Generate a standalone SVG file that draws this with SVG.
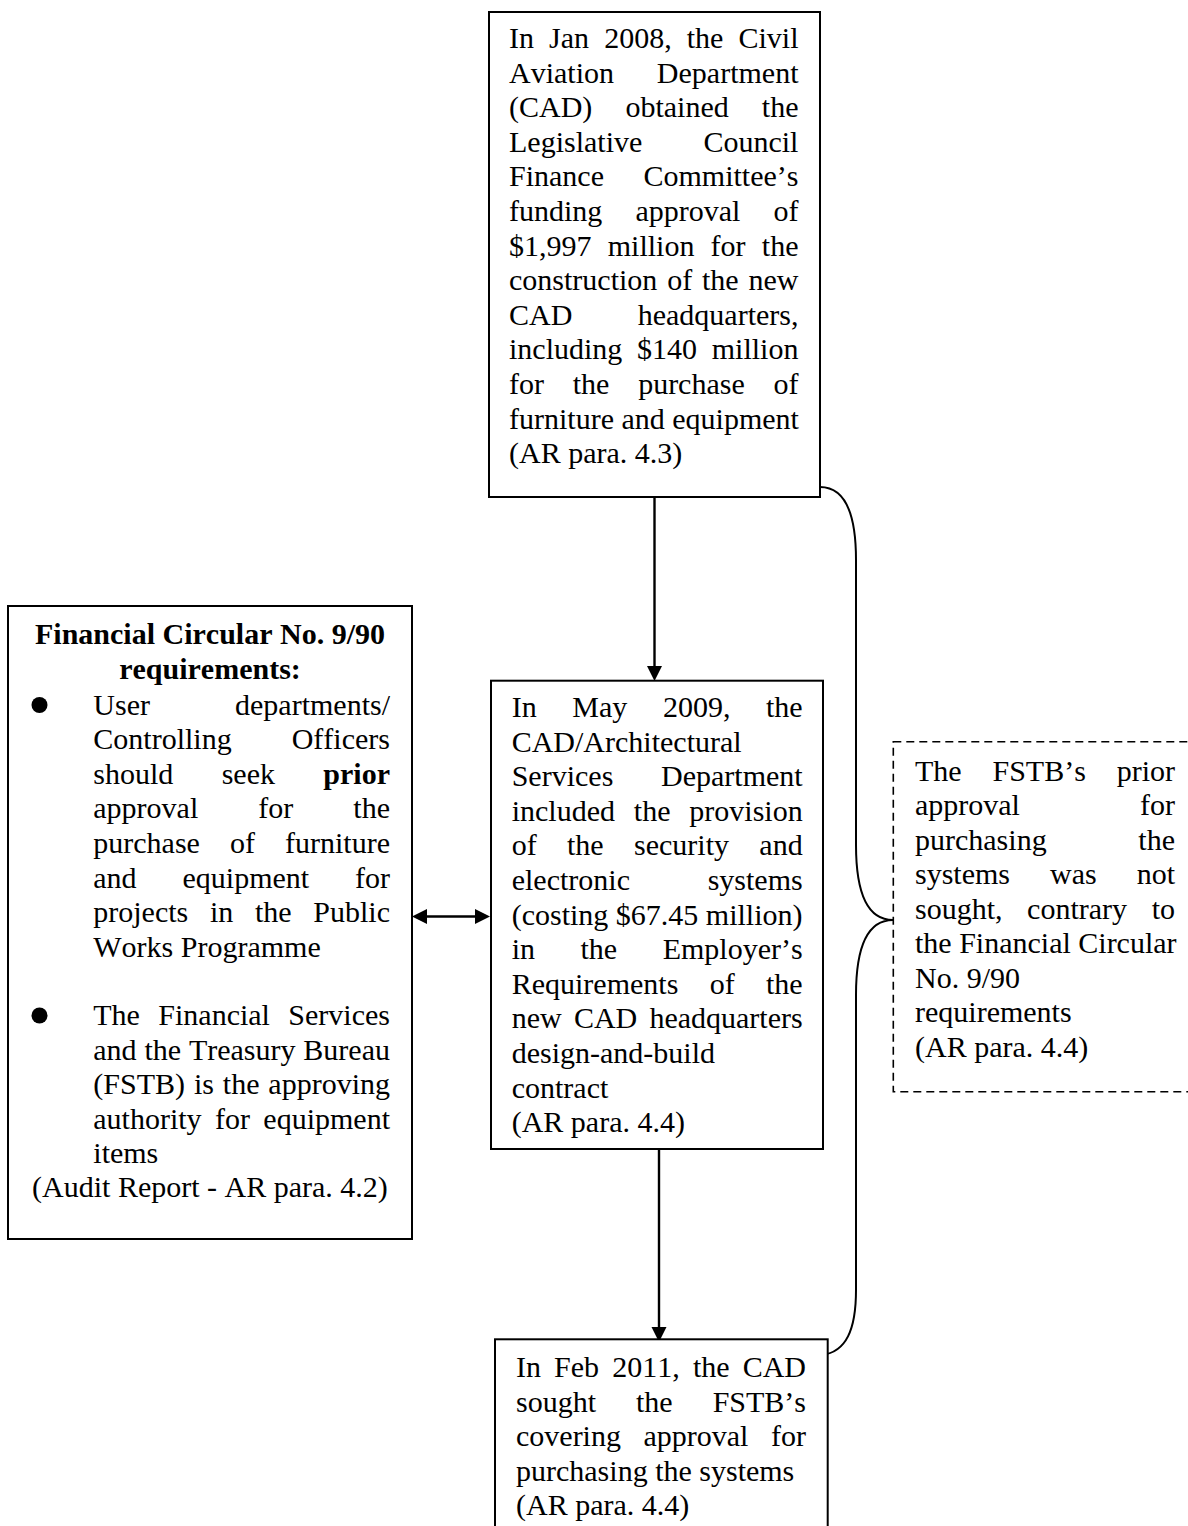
<svg xmlns="http://www.w3.org/2000/svg" width="1188" height="1526" viewBox="0 0 1188 1526">
<style>
.box{fill:#fff;stroke:#000;stroke-width:2}
.dash{fill:#fff;stroke:#000;stroke-width:1.6;stroke-dasharray:8 5}
.t{font-family:"Liberation Serif","Times New Roman",serif;font-size:30px;fill:#000;font-kerning:none}
.b{font-weight:bold}
.c{text-anchor:middle}
.ln{stroke:#000;stroke-width:2.4;fill:none}
.br{stroke:#000;stroke-width:2;fill:none}
</style>
<defs>
<marker id="ah" markerUnits="userSpaceOnUse" markerWidth="16" markerHeight="16" refX="0" refY="8" orient="auto-start-reverse">
<path d="M0,0.5 L15,8 L0,15.5 z" fill="#000"/>
</marker>
</defs>
<rect width="1188" height="1526" fill="#fff"/>

<g id="connectors">
<line class="ln" x1="654.5" y1="488" x2="654.5" y2="666" marker-end="url(#ah)"/>
<line class="ln" x1="659" y1="1149" x2="659" y2="1327" marker-end="url(#ah)"/>
<line class="ln" x1="427" y1="916.5" x2="475" y2="916.5" marker-start="url(#ah)" marker-end="url(#ah)"/>
<path class="br" d="M 820 487 C 846 487 856 515 856 560 L 856 845 C 856 895 868 920 893 920 C 868 920 856 945 856 995 L 856 1290 C 856 1330 846 1352 822 1355"/>
</g>

<g id="node-top">
<rect class="box" x="489" y="12" width="331" height="485"/>
<text class="t" x="509" y="48" style="word-spacing:7.58px">In Jan 2008, the Civil</text>
<text class="t" x="509" y="82.6" style="word-spacing:35.37px">Aviation Department</text>
<text class="t" x="509" y="117.2" style="word-spacing:25.6px">(CAD) obtained the</text>
<text class="t" x="509" y="151.8" style="word-spacing:53.67px">Legislative Council</text>
<text class="t" x="509" y="186.4" style="word-spacing:32.01px">Finance Committee’s</text>
<text class="t" x="509" y="221" style="word-spacing:25.6px">funding approval of</text>
<text class="t" x="509" y="255.6" style="word-spacing:8.72px">$1,997 million for the</text>
<text class="t" x="509" y="290.2" style="word-spacing:2.35px">construction of the new</text>
<text class="t" x="509" y="324.8" style="word-spacing:57.9px">CAD headquarters,</text>
<text class="t" x="509" y="359.4" style="word-spacing:7.23px">including $140 million</text>
<text class="t" x="509" y="394" style="word-spacing:21.25px">for the purchase of</text>
<text class="t" x="509" y="428.6">furniture and equipment</text>
<text class="t" x="509" y="463.2">(AR para. 4.3)</text>
</g>

<g id="node-left">
<rect class="box" x="8" y="606" width="404" height="633"/>
<text class="t b c" x="210" y="644.3">Financial Circular No. 9/90</text>
<text class="t b c" x="210" y="679">requirements:</text>
<circle cx="39.5" cy="705" r="8"/>
<text class="t" x="93.3" y="714.5" style="word-spacing:77.58px">User departments/</text>
<text class="t" x="93.3" y="749.2" style="word-spacing:52.56px">Controlling Officers</text>
<text class="t" x="93.3" y="783.8" style="word-spacing:40.86px">should seek <tspan class="b">prior</tspan></text>
<text class="t" x="93.3" y="818.4" style="word-spacing:52.55px">approval for the</text>
<text class="t" x="93.3" y="853" style="word-spacing:22.56px">purchase of furniture</text>
<text class="t" x="93.3" y="887.6" style="word-spacing:38.37px">and equipment for</text>
<text class="t" x="93.3" y="922.2" style="word-spacing:14.18px">projects in the Public</text>
<text class="t" x="93.3" y="956.5">Works Programme</text>
<circle cx="39.5" cy="1015.5" r="8"/>
<text class="t" x="93.3" y="1025.3" style="word-spacing:10.88px">The Financial Services</text>
<text class="t" x="93.3" y="1059.8" style="word-spacing:0.32px">and the Treasury Bureau</text>
<text class="t" x="93.3" y="1094.3" style="word-spacing:1.4px">(FSTB) is the approving</text>
<text class="t" x="93.3" y="1128.8" style="word-spacing:5.87px">authority for equipment</text>
<text class="t" x="93.3" y="1162.5">items</text>
<text class="t c" x="210" y="1196.5">(Audit Report - AR para. 4.2)</text>
</g>

<g id="node-middle">
<rect class="box" x="491" y="680.7" width="332" height="468.3"/>
<text class="t" x="511.7" y="717" style="word-spacing:28.12px">In May 2009, the</text>
<text class="t" x="511.7" y="751.6">CAD/Architectural</text>
<text class="t" x="511.7" y="786.2" style="word-spacing:40.23px">Services Department</text>
<text class="t" x="511.7" y="820.8" style="word-spacing:11.34px">included the provision</text>
<text class="t" x="511.7" y="855.4" style="word-spacing:22.85px">of the security and</text>
<text class="t" x="511.7" y="890" style="word-spacing:70.2px">electronic systems</text>
<text class="t" x="511.7" y="924.6">(costing $67.45 million)</text>
<text class="t" x="511.7" y="959.2" style="word-spacing:38.01px">in the Employer’s</text>
<text class="t" x="511.7" y="993.8" style="word-spacing:23.85px">Requirements of the</text>
<text class="t" x="511.7" y="1028.4" style="word-spacing:4.71px">new CAD headquarters</text>
<text class="t" x="511.7" y="1063">design-and-build</text>
<text class="t" x="511.7" y="1097.6">contract</text>
<text class="t" x="511.7" y="1132.2">(AR para. 4.4)</text>
</g>

<g id="node-right">
<rect class="dash" x="893.3" y="741.7" width="320" height="350"/>
<text class="t" x="915" y="780.5" style="word-spacing:23.33px">The FSTB’s prior</text>
<text class="t" x="915" y="815" style="word-spacing:112.55px">approval for</text>
<text class="t" x="915" y="849.5" style="word-spacing:84.2px">purchasing the</text>
<text class="t" x="915" y="884" style="word-spacing:32.5px">systems was not</text>
<text class="t" x="915" y="918.5" style="word-spacing:17.1px">sought, contrary to</text>
<text class="t" x="915" y="953">the Financial Circular</text>
<text class="t" x="915" y="987.5">No. 9/90</text>
<text class="t" x="915" y="1022">requirements</text>
<text class="t" x="915" y="1056.5">(AR para. 4.4)</text>
</g>

<g id="node-bottom">
<rect class="box" x="495" y="1339.3" width="332.7" height="220"/>
<text class="t" x="516" y="1377.3" style="word-spacing:5.63px">In Feb 2011, the CAD</text>
<text class="t" x="516" y="1411.8" style="word-spacing:32.49px">sought the FSTB’s</text>
<text class="t" x="516" y="1446.3" style="word-spacing:15.04px">covering approval for</text>
<text class="t" x="516" y="1480.8">purchasing the systems</text>
<text class="t" x="516" y="1515.3">(AR para. 4.4)</text>
</g>
</svg>
